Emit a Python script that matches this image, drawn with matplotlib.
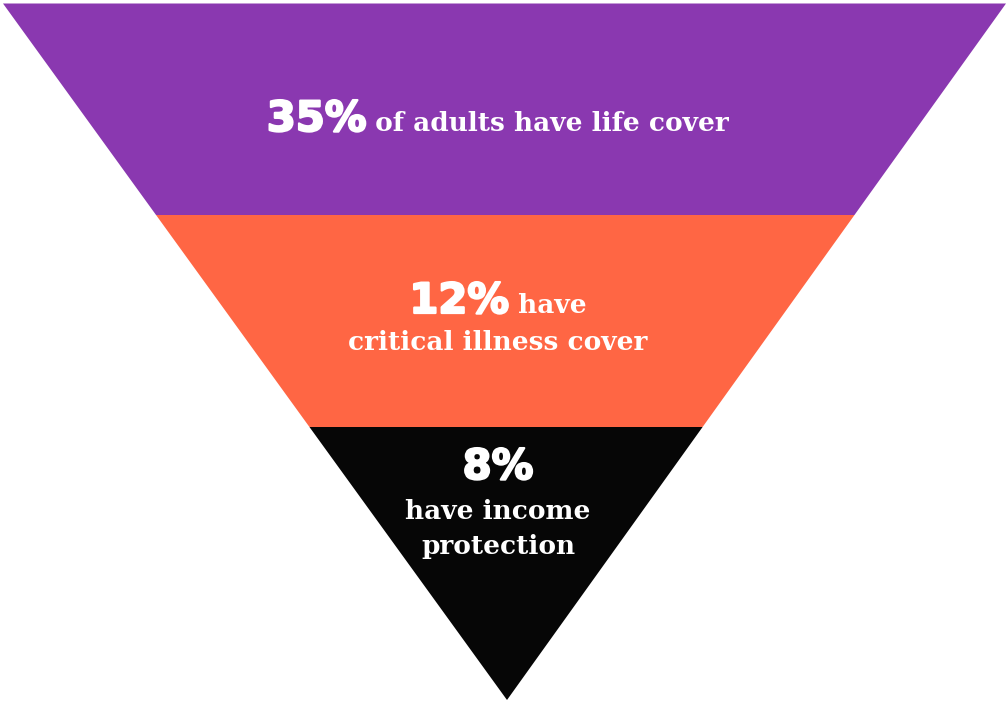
import matplotlib
matplotlib.use("Agg")
import matplotlib.pyplot as plt
import matplotlib.patheffects as pe
from matplotlib.patches import Polygon

# funnel geometry data (pixel space of the picture)
top_y, apex_y = 3.5, 700
left_x, right_x, apex_x = 3, 1006, 507
band_edges = [3.5, 215, 427, 700]
band_colors = ["#8A38B0", "#FF6644", "#060606"]

# text per band: list of lines, each line a list of (string, kind)
pcts = ["35%", "12%", "8%"]
band_lines = [
    [[("35%", "pct"), (" of adults have life cover", "txt")]],
    [[("12%", "pct"), (" have", "txt")], [("critical illness cover", "txt")]],
    [[("8%", "pct")], [("have income", "txt")], [("protection", "txt")]],
]
baselines = [[131], [313, 350], [479, 519, 554]]
center_x = 498

W, H = 1006, 701
fig = plt.figure(figsize=(W/100, H/100), dpi=100)
ax = fig.add_axes([0, 0, 1, 1])
ax.set_xlim(0, W); ax.set_ylim(H, 0); ax.axis("off")

def x_at(y, side):
    t = (y - top_y) / (apex_y - top_y)
    edge = left_x if side == "l" else right_x
    return edge + (apex_x - edge) * t

for i, c in enumerate(band_colors):
    y0, y1 = band_edges[i], band_edges[i+1]
    pts = [(x_at(y0, "l"), y0), (x_at(y0, "r"), y0), (x_at(y1, "r"), y1), (x_at(y1, "l"), y1)]
    ax.add_patch(Polygon(pts, closed=True, color=c, lw=0, antialiased=True))

# heavy sans for the percentages (stroke thickens it toward a black weight)
styles = {
    "pct": dict(family="DejaVu Sans", weight="heavy", size=30,
                path_effects=[pe.withStroke(linewidth=1.6, foreground="white")]),
    "txt": dict(family="DejaVu Serif", weight="bold", size=19),
}

fig.canvas.draw()
r = fig.canvas.get_renderer()
for lines, bls in zip(band_lines, baselines):
    for parts, by in zip(lines, bls):
        objs = []
        for s, k in parts:
            objs.append(ax.text(0, by, s, color="white", ha="left", va="baseline", **styles[k]))
        ws = [o.get_window_extent(r).width for o in objs]
        x = center_x - sum(ws) / 2
        for o, w in zip(objs, ws):
            o.set_x(x); x += w

fig.savefig("out.png", dpi=100)
